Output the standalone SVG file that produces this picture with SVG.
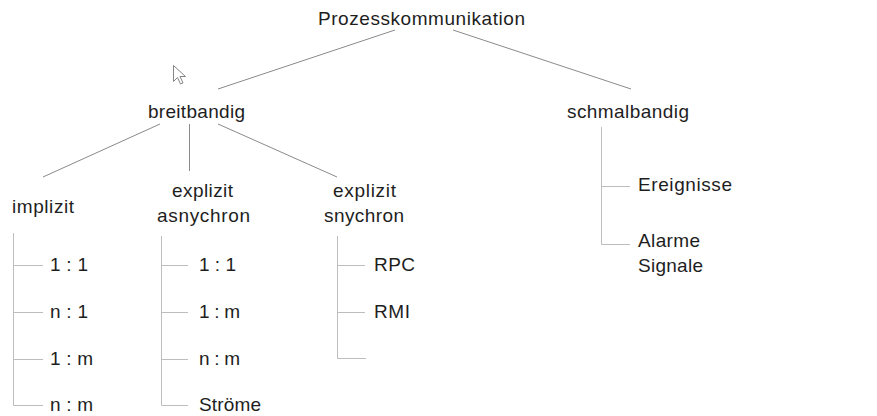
<svg xmlns="http://www.w3.org/2000/svg" width="877" height="416" viewBox="0 0 877 416">
<style>
text{font-family:"Liberation Sans",Arial,sans-serif;font-size:19px;fill:#1e1e1e;}
.c{stroke:#8a8a8a;stroke-width:1;fill:none;}
.t{stroke:#bdbdbd;stroke-width:1;fill:none;}
</style>
<rect width="877" height="416" fill="#fff"/>
<g id="connectors">
<line class="c" x1="395" y1="30" x2="218" y2="89"/>
<line class="c" x1="453" y1="30" x2="631" y2="89"/>
<line class="c" x1="160" y1="124" x2="43" y2="177"/>
<line class="c" x1="189.5" y1="124" x2="189.5" y2="171"/>
<line class="c" x1="218" y1="124" x2="337" y2="177"/>
<path class="t" d="M13.5 233V405.5H43M13.5 265.5H43M13.5 312.5H43M13.5 359.5H43"/>
<path class="t" d="M161.5 236V405.5H188M161.5 265.5H188M161.5 312.5H188M161.5 359.5H188"/>
<path class="t" d="M337.5 236V358.5H366M337.5 265.5H365M337.5 312.5H365"/>
<path class="t" d="M601.5 127V244.5H630M601.5 186.5H630"/>
</g>
<g id="cursor">
<path d="M173.5 65.5V81.5L177.5 77.5L180.5 84L183 83L180 76.5H185.5Z" fill="#fff" stroke="#777" stroke-width="0.9" stroke-linejoin="round"/>
</g>
<g id="root"><text x="318" y="25" textLength="207" lengthAdjust="spacing">Prozesskommunikation</text></g>
<g id="breitbandig"><text x="148" y="118" textLength="97" lengthAdjust="spacing">breitbandig</text></g>
<g id="schmalbandig"><text x="567" y="118" textLength="122" lengthAdjust="spacing">schmalbandig</text></g>
<g id="implizit">
<text x="12" y="213" textLength="62" lengthAdjust="spacing">implizit</text>
<text x="50" y="271" textLength="38" lengthAdjust="spacing">1 : 1</text>
<text x="50" y="318" textLength="38" lengthAdjust="spacing">n : 1</text>
<text x="50" y="365" textLength="43" lengthAdjust="spacing">1 : m</text>
<text x="50" y="411" textLength="43" lengthAdjust="spacing">n : m</text>
</g>
<g id="explizit-asynchron">
<text x="172" y="197" textLength="61" lengthAdjust="spacing">explizit</text>
<text x="157" y="222" textLength="93" lengthAdjust="spacing">asnychron</text>
<text x="199" y="271" textLength="37" lengthAdjust="spacing">1 : 1</text>
<text x="199" y="318" textLength="41" lengthAdjust="spacing">1 : m</text>
<text x="199" y="365" textLength="41" lengthAdjust="spacing">n : m</text>
<text x="199" y="411" textLength="62" lengthAdjust="spacing">Ströme</text>
</g>
<g id="explizit-synchron">
<text x="333" y="197" textLength="63" lengthAdjust="spacing">explizit</text>
<text x="324" y="222" textLength="80" lengthAdjust="spacing">snychron</text>
<text x="374" y="271" textLength="41" lengthAdjust="spacing">RPC</text>
<text x="374" y="318" textLength="36" lengthAdjust="spacing">RMI</text>
</g>
<g id="schmal-children">
<text x="638" y="191" textLength="94" lengthAdjust="spacing">Ereignisse</text>
<text x="638" y="247" textLength="62" lengthAdjust="spacing">Alarme</text>
<text x="638" y="272" textLength="65" lengthAdjust="spacing">Signale</text>
</g>
</svg>
